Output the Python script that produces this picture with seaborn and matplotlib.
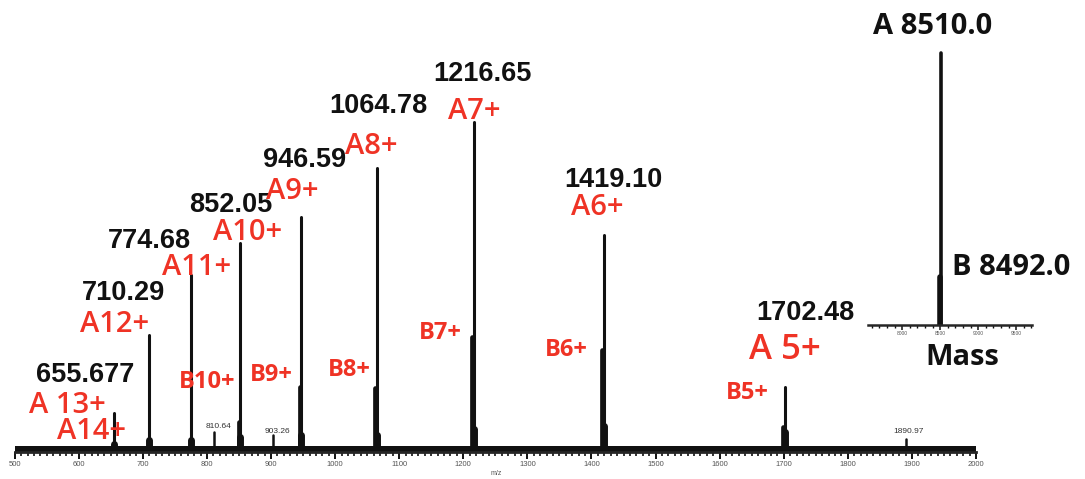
import numpy as np
import pandas as pd
import matplotlib
matplotlib.use("Agg")
import matplotlib.pyplot as plt
from matplotlib.ticker import MultipleLocator
import seaborn as sns

sns.set_style("white")
plt.rcParams["font.family"] = ["Liberation Sans", "DejaVu Sans"]

RED = "#ef3325"
INK = "#111111"

# ── data (relative intensity, tallest = 100) ────────────────────────────────
a_mz   = [655.677, 710.29, 774.68, 852.05, 946.59, 1064.78, 1216.65, 1419.10, 1702.48]
a_int  = [11.8, 35.5, 53.6, 63.3, 71.2, 86.1, 100.0, 65.8, 19.7]
a_foot = [2.5, 3.5, 3.5, 4.5, 5, 5, 7, 8, 6]   # broadened base of each peak

b_mz  = [850.2, 944.6, 1062.5, 1214.1, 1416.3, 1699.4]
b_int = [9.0, 19.7, 19.4, 34.8, 30.9, 7.5]

minor_mz  = [810.64, 903.26, 1890.97]
minor_int = [6.1, 5.2, 4.0]

baseline_mz  = [500, 2000]
baseline_int = [1.8, 1.8]

# deconvoluted mass inset
mass     = [8510.0, 8492.0]
mass_int = [100.0, 17.6]

# labels: text, x (m/z), y (intensity)
num_lbl = ["655.677", "710.29", "774.68", "852.05", "946.59",
           "1064.78", "1216.65", "1419.10", "1702.48"]
num_x = [609.7, 670.5, 710.3, 837.4, 952.9, 1067.6, 1230.6, 1434.2, 1733.0]
num_y = [23.3, 48.2, 63.9, 74.8, 88.5, 104.8, 114.5, 82.4, 42.1]

a_lbl = ["A 13+", "A14+", "A12+", "A11+", "A10+", "A9+", "A8+", "A7+", "A6+"]
a_x   = [581.6, 620.6, 656.5, 784.4, 863.2, 933.4, 1056.6, 1217.3, 1409.2]
a_y   = [14.2, 6.1, 38.5, 55.8, 66.4, 78.8, 92.7, 103.3, 74.2]

b_lbl = ["B10+", "B9+", "B8+", "B7+", "B6+", "B5+"]
b_x   = [800.0, 900.6, 1022.3, 1163.5, 1360.8, 1643.2]
b_y   = [21.2, 23.3, 24.8, 36.1, 30.9, 17.9]

small_lbl = ["810.64", "903.26", "1890.97"]
small_x   = [818.7, 910.0, 1894.5]
small_y   = [7.6, 6.1, 6.1]


def sticks(x, h):
    """long table: one vertical segment per peak"""
    return pd.DataFrame({
        "x": np.repeat(x, 2),
        "y": np.ravel([[0.0, v] for v in h]),
        "peak": np.repeat(np.arange(len(x)), 2),
    })


def draw(ax, x, h, lw):
    sns.lineplot(data=sticks(x, h), x="x", y="y", units="peak", estimator=None,
                 color=INK, lw=lw, ax=ax, legend=False, sort=False)


sans = ["Open Sans", "DejaVu Sans"]
fig = plt.figure(figsize=(10.85, 4.79), dpi=100)

# ── main spectrum ─────────────────────────────────────────────────────────────
ax = fig.add_axes([0.01355, 0.0564, 0.886, 0.7234])
ax.fill_between(baseline_mz, 0, baseline_int, color=INK, lw=0)
draw(ax, a_mz, a_int, 2.2)
draw(ax, a_mz, a_foot, 5.0)
draw(ax, b_mz, b_int, 3.4)
draw(ax, minor_mz, minor_int, 1.8)

ax.set_xlim(500, 2000)
ax.set_ylim(0, 105)
ax.set_yticks([])
ax.set_xlabel(""); ax.set_ylabel("")
ax.xaxis.set_major_locator(MultipleLocator(100))
ax.xaxis.set_minor_locator(MultipleLocator(10))
ax.tick_params(axis="x", which="both", bottom=True, direction="out")
ax.tick_params(axis="x", which="major", length=5, width=1.4, labelsize=5.5,
               pad=1.5, labelcolor="#555555", color=INK)
ax.tick_params(axis="x", which="minor", length=3, width=1.2, color=INK)
sns.despine(ax=ax, left=True)
ax.spines["bottom"].set_linewidth(2.0)
ax.patch.set_alpha(0)
ax.text(1252, -6.4, "m/z", fontsize=5, color="#555555", ha="center", va="center")

for t, x, y in zip(num_lbl, num_x, num_y):
    ax.text(x, y, t, fontsize=19.5, fontweight="bold", color=INK,
            ha="center", va="center")
for t, x, y in zip(a_lbl, a_x, a_y):
    ax.text(x, y, t, fontsize=21, fontweight="semibold", color=RED,
            ha="center", va="center", family=sans)
ax.text(1702, 30.9, "A 5+", fontsize=25, fontweight="semibold", color=RED,
        ha="center", va="center", family=sans)
for t, x, y in zip(b_lbl, b_x, b_y):
    ax.text(x, y, t, fontsize=17, fontweight="bold", color=RED,
            ha="center", va="center", family=sans)
for t, x, y in zip(small_lbl, small_x, small_y):
    ax.text(x, y, t, fontsize=6, color="#333333", ha="center", va="center")

# ── inset: deconvoluted mass ─────────────────────────────────────────────────
ax2 = fig.add_axes([0.8, 0.3215, 0.1512, 0.5962])
draw(ax2, mass[:1], mass_int[:1], 2.6)
draw(ax2, mass[1:], mass_int[1:], 4.0)
ax2.set_xlim(7550, 9710)
ax2.set_ylim(0, 105)
ax2.set_yticks([])
ax2.set_xlabel(""); ax2.set_ylabel("")
ax2.xaxis.set_major_locator(MultipleLocator(500))
ax2.xaxis.set_minor_locator(MultipleLocator(100))
ax2.tick_params(axis="x", which="both", bottom=True, direction="out")
ax2.tick_params(axis="x", which="major", length=3.5, width=1.1, labelsize=3.5,
                pad=1, labelcolor="#555555", color=INK)
ax2.tick_params(axis="x", which="minor", length=2.5, width=1.0, color=INK)
sns.despine(ax=ax2, left=True)
ax2.spines["bottom"].set_linewidth(1.8)
ax2.patch.set_alpha(0)

ax2.text(8401, 109.6, "A 8510.0", fontsize=21, fontweight="bold", color=INK,
         ha="center", va="center", family=sans)
ax2.text(9441, 21.3, "B 8492.0", fontsize=21, fontweight="bold", color=INK,
         ha="center", va="center", family=sans)
ax2.text(8789, -11.8, "Mass", fontsize=21, fontweight="bold", color=INK,
         ha="center", va="center", family=sans)

fig.savefig("out.png", dpi=100)
